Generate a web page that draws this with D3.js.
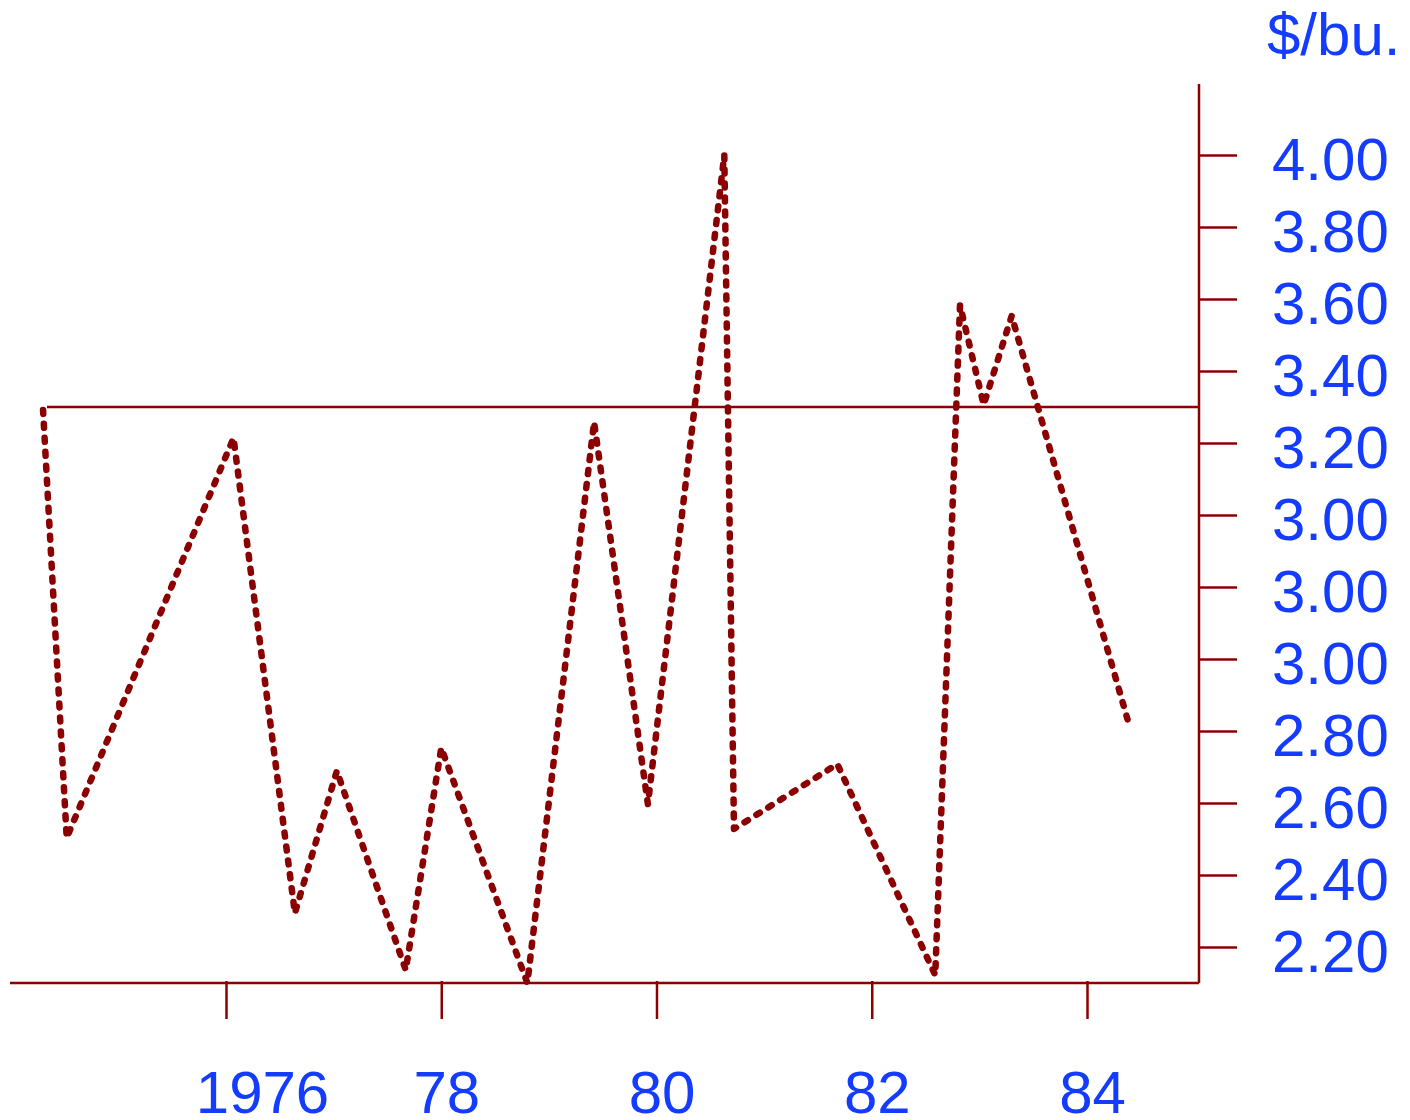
<!DOCTYPE html>
<html>
<head>
<meta charset="utf-8">
<script src="https://cdn.jsdelivr.net/npm/d3@7"></script>
<style>
  body { margin: 0; background: #fff; }
  text { font-family: "Liberation Sans", Arial, sans-serif; }
</style>
</head>
<body>
<svg id="chart"></svg>
<script>
// values (year, price on the chart's own scale)
const years = [1974.30, 1974.52, 1976.07, 1976.64, 1977.03, 1977.67, 1978.00, 1978.80, 1979.42,
               1979.92, 1980.63, 1980.72, 1981.68, 1982.59, 1982.82, 1983.04, 1983.30, 1984.40];
const prices = [3.292, 2.103, 3.214, 1.894, 2.289, 1.736, 2.353, 1.700, 3.258,
                2.197, 4.000, 2.128, 2.308, 1.722, 3.583, 3.306, 3.553, 2.408];
const refPrice = 3.30;

const xTickYears = [1976, 1978, 1980, 1982, 1984];
const xTickLabels = ["1976", "78", "80", "82", "84"];
const yTickValues = [4.0, 3.8, 3.6, 3.4, 3.2, 3.0, 2.8, 2.6, 2.4, 2.2, 2.0, 1.8];
const yTickLabels = ["4.00", "3.80", "3.60", "3.40", "3.20", "3.00", "3.00", "3.00", "2.80", "2.60", "2.40", "2.20"];
const unitLabel = "$/bu.";

const width = 1410, height = 1120;
const darkRed = "#8b0000", blue = "#143cff";
const fontSize = "60px";

const svg = d3.select("#chart")
    .attr("width", width)
    .attr("height", height);

const x = d3.scaleLinear().domain([1976, 1984]).range([226, 1087]);
const y = d3.scaleLinear().domain([1.8, 4.0]).range([947, 155]);

const axisX = 1199, axisY = 983;

// axis lines
svg.append("line")
    .attr("x1", 10).attr("x2", axisX)
    .attr("y1", axisY).attr("y2", axisY)
    .attr("stroke", darkRed).attr("stroke-width", 2.5);

svg.append("line")
    .attr("x1", axisX).attr("x2", axisX)
    .attr("y1", 84).attr("y2", axisY)
    .attr("stroke", darkRed).attr("stroke-width", 2.5);

// y axis on the right
const yAxisG = svg.append("g")
    .attr("transform", `translate(${axisX},0)`)
    .call(d3.axisRight(y)
        .tickValues(yTickValues)
        .tickSize(38)
        .tickFormat((d, i) => yTickLabels[i]));

yAxisG.select(".domain").remove();
yAxisG.selectAll(".tick line")
    .attr("stroke", darkRed).attr("stroke-width", 2.5);
yAxisG.selectAll(".tick text")
    .attr("x", 73)
    .attr("dy", "0.4em")
    .attr("text-anchor", "start")
    .style("font-size", fontSize)
    .style("font-family", "'Liberation Sans', Arial, sans-serif")
    .attr("fill", blue);

// x axis
const xAxisG = svg.append("g")
    .attr("transform", `translate(0,${axisY})`)
    .call(d3.axisBottom(x)
        .tickValues(xTickYears)
        .tickSize(36)
        .tickFormat((d, i) => xTickLabels[i]));

xAxisG.select(".domain").remove();
xAxisG.selectAll(".tick line")
    .attr("y1", -2)
    .attr("stroke", darkRed).attr("stroke-width", 2.5);
xAxisG.selectAll(".tick text")
    .attr("y", 130)
    .attr("dy", "0")
    .attr("dx", (d, i) => i == 0 ? 36 : 5)
    .style("font-size", fontSize)
    .style("font-family", "'Liberation Sans', Arial, sans-serif")
    .attr("fill", blue);

// unit label
svg.append("text")
    .attr("x", 1267)
    .attr("y", 55)
    .style("font-size", fontSize)
    .attr("fill", blue)
    .text(unitLabel);

// reference line
svg.append("line")
    .attr("x1", 47).attr("x2", axisX)
    .attr("y1", y(refPrice)).attr("y2", y(refPrice))
    .attr("stroke", darkRed).attr("stroke-width", 2.5);

// dotted price line
const points = years.map((yr, i) => [yr, prices[i]]);
const line = d3.line()
    .x(d => x(d[0]))
    .y(d => y(d[1]));

svg.append("path")
    .datum(points)
    .attr("d", line)
    .attr("fill", "none")
    .attr("stroke", darkRed)
    .attr("stroke-width", 6.5)
    .attr("stroke-linecap", "round")
    .attr("stroke-linejoin", "round")
    .attr("stroke-dasharray", "4,10");
</script>
</body>
</html>
